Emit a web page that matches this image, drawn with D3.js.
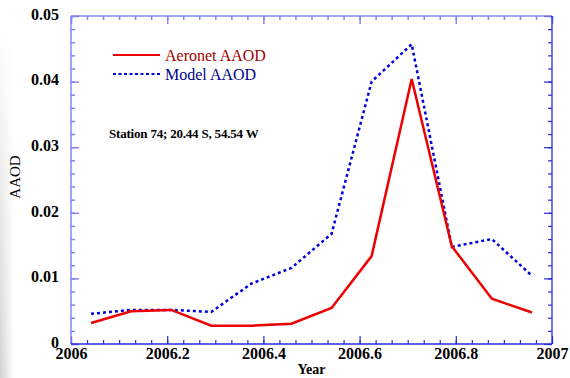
<!DOCTYPE html>
<html>
<head>
<meta charset="utf-8">
<script src="https://cdn.jsdelivr.net/npm/d3@7"></script>
<style>
  html, body { margin: 0; padding: 0; background: #fff; }
  svg { display: block; }
  svg text { font-family: "Liberation Serif", "DejaVu Serif", serif; }
</style>
</head>
<body>
<div id="chart"></div>
<script>
// monthly mid-points (year fraction)
const years = [2006.0417, 2006.125, 2006.2083, 2006.2917, 2006.375, 2006.4583,
               2006.5417, 2006.625, 2006.7083, 2006.7917, 2006.875, 2006.9583];
const aeronetAAOD = [0.0032, 0.0050, 0.0052, 0.0028, 0.0028, 0.0031,
                     0.0055, 0.0134, 0.0404, 0.0149, 0.0069, 0.0048];
const modelAAOD   = [0.0046, 0.0052, 0.0052, 0.0049, 0.0092, 0.0116,
                     0.0168, 0.0400, 0.0457, 0.0148, 0.0160, 0.0104];

const xTicks = [2006, 2006.2, 2006.4, 2006.6, 2006.8, 2007];
const xTickLabels = ['2006', '2006.2', '2006.4', '2006.6', '2006.8', '2007'];
const yTicks = [0, 0.01, 0.02, 0.03, 0.04, 0.05];
const yTickLabels = ['0', '0.01', '0.02', '0.03', '0.04', '0.05'];

const seriesNames = ['Aeronet AAOD', 'Model AAOD'];
const stationLabel = 'Station 74; 20.44 S, 54.54 W';

const FONT = '"Liberation Serif", "DejaVu Serif", serif';

const width = 570, height = 378;
const margin = { top: 16, right: 18, bottom: 34, left: 71 };
const innerWidth = width - margin.left - margin.right;
const innerHeight = height - margin.top - margin.bottom;

const svg = d3.select('#chart').append('svg')
    .attr('width', width)
    .attr('height', height);

// faint grey edge on the left side
const defs = svg.append('defs');
const grad = defs.append('linearGradient').attr('id', 'edge').attr('x1', 0).attr('x2', 1);
grad.append('stop').attr('offset', 0).attr('stop-color', '#d2d2d2');
grad.append('stop').attr('offset', 1).attr('stop-color', '#ffffff');
const vgrad = defs.append('linearGradient').attr('id', 'edgeFade')
    .attr('x1', 0).attr('x2', 0).attr('y1', 0).attr('y2', 1);
vgrad.append('stop').attr('offset', 0.05).attr('stop-color', '#fff').attr('stop-opacity', 0);
vgrad.append('stop').attr('offset', 1).attr('stop-color', '#fff').attr('stop-opacity', 1);
const mask = defs.append('mask').attr('id', 'edgeMask');
mask.append('rect').attr('x', 0).attr('y', 0).attr('width', 14).attr('height', height)
    .attr('fill', 'url(#edgeFade)');
svg.append('rect')
    .attr('x', 0).attr('y', 0).attr('width', 14).attr('height', height)
    .attr('fill', 'url(#edge)')
    .attr('mask', 'url(#edgeMask)');

const g = svg.append('g')
    .attr('transform', `translate(${margin.left},${margin.top})`);

// Scales
const xScale = d3.scaleLinear().domain([2006, 2007]).range([0, innerWidth]);
const yScale = d3.scaleLinear().domain([0, 0.05]).range([innerHeight, 0]);

const xMinor = d3.range(0, 31).map(i => 2006 + i / 30);
const yMinor = d3.range(0, 26).map(i => i * 0.002);

const lightAxis = '#8585f0';
const darkAxis = '#2a2ae0';

function styleAxis(sel, color, sw) {
    sel.select('.domain').remove();
    sel.attr('font-family', FONT);
    sel.selectAll('line').attr('stroke', color).attr('stroke-width', sw);
}

// minor ticks (inward)
styleAxis(g.append('g').call(d3.axisLeft(yScale).tickValues(yMinor).tickSize(-4).tickFormat('')), lightAxis, 1.5);
styleAxis(g.append('g').attr('transform', `translate(${innerWidth},0)`)
    .call(d3.axisRight(yScale).tickValues(yMinor).tickSize(-4).tickFormat('')), darkAxis, 1.2);
styleAxis(g.append('g').call(d3.axisTop(xScale).tickValues(xMinor).tickSize(-4).tickFormat('')), lightAxis, 1.5);
styleAxis(g.append('g').attr('transform', `translate(0,${innerHeight})`)
    .call(d3.axisBottom(xScale).tickValues(xMinor).tickSize(-4).tickFormat('')), darkAxis, 1.2);

// major ticks with labels
const yAxis = g.append('g')
    .call(d3.axisLeft(yScale).tickValues(yTicks).tickSize(-8).tickPadding(12)
        .tickFormat((d, i) => yTickLabels[i]));
styleAxis(yAxis, lightAxis, 1.5);
yAxis.selectAll('text')
    .attr('fill', '#000')
    .attr('dy', '0.2em')
    .style('font-size', '16px')
    .style('font-weight', 'bold');

styleAxis(g.append('g').attr('transform', `translate(${innerWidth},0)`)
    .call(d3.axisRight(yScale).tickValues(yTicks).tickSize(-8).tickFormat('')), darkAxis, 1.2);
styleAxis(g.append('g').call(d3.axisTop(xScale).tickValues(xTicks).tickSize(-8).tickFormat('')), lightAxis, 1.5);

const xAxis = g.append('g')
    .attr('transform', `translate(0,${innerHeight})`)
    .call(d3.axisBottom(xScale).tickValues(xTicks).tickSize(-8).tickPadding(4)
        .tickFormat((d, i) => xTickLabels[i]));
styleAxis(xAxis, darkAxis, 1.2);
xAxis.selectAll('text')
    .attr('fill', '#000')
    .style('font-size', '16px')
    .style('font-weight', 'bold');

// frame
g.append('line').attr('x1', 0).attr('x2', innerWidth).attr('y1', 0).attr('y2', 0)
    .attr('stroke', lightAxis).attr('stroke-width', 1.5);
g.append('line').attr('x1', 0).attr('x2', 0).attr('y1', 0).attr('y2', innerHeight)
    .attr('stroke', lightAxis).attr('stroke-width', 1.5);
g.append('line').attr('x1', innerWidth).attr('x2', innerWidth).attr('y1', 0).attr('y2', innerHeight)
    .attr('stroke', darkAxis).attr('stroke-width', 1.3);
g.append('line').attr('x1', 0).attr('x2', innerWidth).attr('y1', innerHeight).attr('y2', innerHeight)
    .attr('stroke', darkAxis).attr('stroke-width', 1.3);

// Axis labels
svg.append('text')
    .attr('x', margin.left + innerWidth / 2)
    .attr('y', 374)
    .attr('text-anchor', 'middle')
    .style('font-size', '14px')
    .style('font-weight', 'bold')
    .text('Year');

svg.append('text')
    .attr('transform', `translate(20,177) rotate(-90)`)
    .attr('text-anchor', 'middle')
    .style('font-size', '15px')
    .text('AAOD');

// Lines
const line = d3.line()
    .x(d => xScale(d[0]))
    .y(d => yScale(d[1]));

g.append('path')
    .datum(years.map((yr, i) => [yr, modelAAOD[i]]))
    .attr('d', line)
    .attr('fill', 'none')
    .attr('stroke', '#0000dd')
    .attr('stroke-width', 2.5)
    .attr('stroke-dasharray', '3,3');

g.append('path')
    .datum(years.map((yr, i) => [yr, aeronetAAOD[i]]))
    .attr('d', line)
    .attr('fill', 'none')
    .attr('stroke', '#ee0000')
    .attr('stroke-width', 2.5);

// Legend
const legend = svg.append('g');
const legendItems = [
    { name: seriesNames[0], stroke: '#ee0000', dash: null, text: '#a00000', y: 55 },
    { name: seriesNames[1], stroke: '#0000dd', dash: '3,2.5', text: '#00008c', y: 74 }
];
legendItems.forEach(item => {
    legend.append('line')
        .attr('x1', 113).attr('x2', 160)
        .attr('y1', item.y).attr('y2', item.y)
        .attr('stroke', item.stroke)
        .attr('stroke-width', 2)
        .attr('stroke-dasharray', item.dash);
    legend.append('text')
        .attr('x', 165).attr('y', item.y)
        .attr('dy', '0.35em')
        .attr('fill', item.text)
        .style('font-size', '16px')
        .text(item.name);
});

svg.append('text')
    .attr('x', 109).attr('y', 133)
    .attr('dy', '0.35em')
    .style('font-size', '13px')
    .style('font-weight', 'bold')
    .style('letter-spacing', '-0.2px')
    .text(stationLabel);
</script>
</body>
</html>
